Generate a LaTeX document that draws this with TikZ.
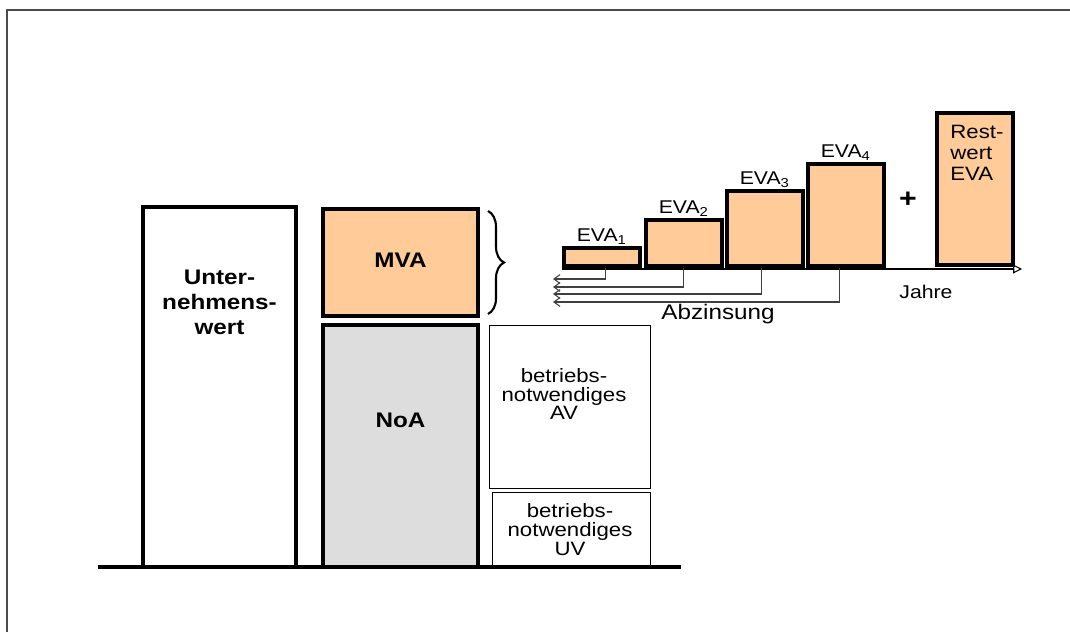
\documentclass[tikz,border=0pt]{standalone}
\usepackage{fontspec}
\setmainfont{Liberation Sans}[FakeStretch=1.15]
\usetikzlibrary{arrows.meta,decorations.pathreplacing}
\definecolor{evaorange}{HTML}{FFCC99}
\definecolor{noagray}{HTML}{DDDDDD}
\tikzset{
    dickbox/.style={draw, line width=2.1pt, inner sep=0pt},
    duennbox/.style={draw, line width=0.5pt, inner sep=0pt},
    fett/.style={font=\fontsize{12}{14.2}\selectfont\bfseries, align=center},
    normal/.style={font=\fontsize{11}{10.8}\selectfont, align=center},
    klein/.style={font=\fontsize{10.5}{11}\selectfont},
    abzins/.style={draw=black!75, line width=0.6pt, -{Straight Barb[length=3.5pt,width=5pt]}},
    klammer/.style={decorate, decoration={brace, amplitude=0.32cm}, line width=1.2pt}
}
\begin{document}
\begin{tikzpicture}[x=0.02cm, y=-0.02cm]
    \useasboundingbox (0,0) rectangle (1070,632);
    \draw[line width=0.9pt, black!70] (7,632) |- (1070,10);

    \node[dickbox, minimum width=3.06cm, minimum height=7.2cm] (uw) at (219.5,387) {};
    \node[fett] (uwtext) at (219.5,302) {Unter-\\nehmens-\\wert};

    \node[dickbox, fill=evaorange, minimum width=3.1cm, minimum height=2.14cm] (mva) at (400.5,262.5) {};
    \node[fett] (mvatext) at (400.5,260) {MVA};
    \node[dickbox, fill=noagray, minimum width=3.1cm, minimum height=4.84cm] (noa) at (400.5,446) {};
    \node[fett] (noatext) at (400.5,420) {NoA};

    \node[duennbox, minimum width=3.22cm, minimum height=3.26cm] (av) at (569.5,406.5) {};
    \node[normal] (avtext) at (564,394) {betriebs-\\notwendiges\\AV};
    \node[duennbox, minimum width=3.16cm, minimum height=1.5cm] (uv) at (571,529.5) {};
    \node[normal] (uvtext) at (570,530) {betriebs-\\notwendiges\\UV};

    \coordinate (boden1) at (98,567);
    \coordinate (boden2) at (681,567);
    \draw[line width=1.8pt] (boden1) -- (boden2);

    \coordinate (bro) at (488,211);
    \coordinate (bru) at (488,314);
    \draw[klammer] (bro) -- (bru);

    \coordinate (achse) at (562,269);
    \coordinate (jahre) at (1022,269);
    \draw[line width=0.6pt, -{Triangle[open,length=5pt,width=5pt]}] (achse) -- (jahre);
    \node[klein] (jahretext) at (926,292) {Jahre};

    \foreach \i/\x/\o in {1/562/250, 2/644/222, 3/725/193, 4/806/166}{
      \node[dickbox, fill=evaorange, anchor=south west, minimum width=1.52cm,
            minimum height={(268-\o)*0.02cm},
            label={[klein, inner sep=1pt]above:EVA\textsubscript{\i}}] (eva\i) at (\x,268) {};
    }

    \foreach \i/\y/\d in {1/279/4, 2/287/0, 3/294/-3, 4/302/-6}{
      \coordinate (ab\i) at (553,\y);
      \draw[abzins] ([xshift=\d*0.02cm]eva\i.south) |- (ab\i);
    }
    \node[font=\fontsize{12}{14}\selectfont] (abztext) at (718,314) {Abzinsung};

    \node[font=\fontsize{15}{17}\selectfont\bfseries] (plus) at (908,200) {+};

    \node[dickbox, fill=evaorange, minimum width=1.52cm, minimum height=3.04cm] (rest) at (975,189) {};
    \node[normal, align=left, anchor=north west, inner sep=0pt,
          font=\fontsize{11}{11.8}\selectfont] (resttext) at (950,125) {Rest-\\wert\\EVA};
\end{tikzpicture}
\end{document}
